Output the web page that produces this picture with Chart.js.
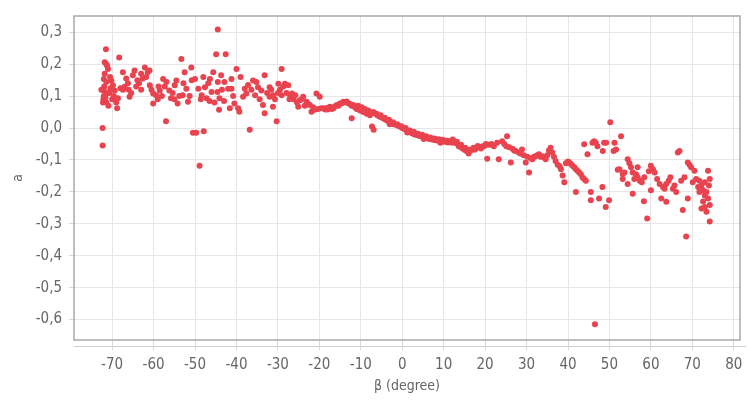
<!DOCTYPE html>
<html>
<head>
<meta charset="utf-8">
<script src="https://cdn.jsdelivr.net/npm/chart.js@4/dist/chart.umd.min.js"></script>
<style>
  html, body { margin: 0; padding: 0; background: #fff; }
  canvas { display: block; }
</style>
</head>
<body>
<canvas id="scatter" width="751" height="401"></canvas>
<script>
// beta (degree) / a pairs, split by region of the sweep
const ptsFarLeft = [
  [-72.3,-0.055],[-72.3,0.0],[-72.2,0.08],[-72.1,0.09],[-72.0,0.1],[-72.0,0.118],[-71.9,0.13],[-72.0,0.154],
  [-71.8,0.17],[-71.8,0.206],[-71.5,0.247],[-71.4,0.2],[-71.4,0.144],[-71.4,0.08],[-71.2,0.195],[-71.2,0.11],
  [-71.0,0.185],[-70.9,0.07],[-70.7,0.11],[-70.5,0.16],[-70.2,0.149],[-70.0,0.09],[-69.8,0.134],[-69.6,0.1],
  [-69.4,0.118],[-69.0,0.08],[-68.8,0.062],[-68.6,0.093],[-68.3,0.221],[-68.0,0.125],[-67.4,0.175],[-67.4,0.12],
  [-67.0,0.129],[-66.6,0.155],[-66.2,0.14],[-65.8,0.098],[-65.4,0.11],[-65.0,0.165],[-64.6,0.18],[-64.2,0.13],
  [-63.9,0.15],[-63.5,0.14],[-63.0,0.17],[-62.6,0.155],[-62.1,0.19],[-61.8,0.16],[-61.4,0.175],[-61.0,0.18],
  [-60.9,0.134],[-60.5,0.12],[-72.6,0.12],[-71.6,0.095],[-70.4,0.125],[-66.0,0.12],[-63.0,0.12]
];
const ptsLeft = [
  [-60.1,0.108],[-60.1,0.077],[-59.4,0.103],[-59.0,0.09],[-58.5,0.118],[-58.0,0.1],[-57.7,0.154],[-57.3,0.13],
  [-57.0,0.021],[-56.9,0.144],[-56.2,0.118],[-55.8,0.093],[-55.4,0.11],[-54.9,0.134],[-54.5,0.149],[-54.2,0.077],
  [-53.8,0.1],[-53.3,0.216],[-53.0,0.103],[-52.5,0.175],[-52.1,0.123],[-51.7,0.082],[-51.3,0.1],[-50.9,0.19],
  [-50.8,0.15],[-50.5,-0.015],[-50.0,0.154],[-49.7,-0.015],[-49.2,0.123],[-48.9,-0.118],[-48.6,0.09],[-48.4,0.103],
  [-47.9,-0.01],[-47.6,0.128],[-47.2,0.093],[-46.8,0.14],[-46.4,0.154],[-46.0,0.113],[-45.6,0.175],[-45.3,0.08],
  [-44.9,0.231],[-44.5,0.309],[-44.5,0.144],[-44.6,0.113],[-44.1,0.093],[-44.2,0.057],
  [-58.8,0.13],[-55.0,0.09],[-52.8,0.14],[-48.0,0.16],[-46.5,0.085]
];
const ptsMidLeft = [
  [-43.7,0.165],[-43.0,0.085],[-42.9,0.144],[-42.6,0.231],[-42.0,0.123],[-41.6,0.062],[-41.2,0.154],[-41.2,0.123],
  [-40.5,0.077],[-40.0,0.185],[-39.6,0.062],[-39.3,0.051],[-39.0,0.16],[-38.4,0.098],[-38.0,0.123],[-37.6,0.108],
  [-36.8,-0.005],[-36.4,0.12],[-36.0,0.149],[-35.5,0.103],[-35.2,0.144],[-34.8,0.128],[-34.4,0.09],[-34.0,0.118],
  [-33.6,0.072],[-33.2,0.165],[-33.2,0.046],[-32.6,0.11],[-32.0,0.098],[-32.0,0.128],[-31.6,0.12],[-31.2,0.103],
  [-31.2,0.067],[-30.7,0.09],[-30.3,0.021],[-29.9,0.139],[-29.5,0.12],[-29.1,0.185],[-29.1,0.103],[-28.7,0.13],
  [-28.3,0.139],[-27.9,0.11],[-27.5,0.134],[-27.0,0.1],[-26.6,0.108],[-26.2,0.09],[-25.8,0.103],[-25.4,0.08],
  [-25.1,0.067],[-24.7,0.087],[-24.3,0.09],[-23.9,0.098],[-23.5,0.07],[-23.1,0.082],[-22.7,0.075],[-22.3,0.072],
  [-21.9,0.051],[-21.5,0.065],[-21.1,0.057],[-20.7,0.108],[-20.3,0.06],[-19.9,0.098],[-19.5,0.062],
  [-43.5,0.12],[-40.8,0.1],[-37.2,0.135],[-30.0,0.11],[-27.2,0.09]
];
const ptsCentre = [
  [-19.0,0.062],[-18.6,0.058],[-18.3,0.062],[-18.0,0.058],[-17.7,0.064],[-17.4,0.067],[-17.0,0.06],[-16.6,0.062],
  [-16.2,0.068],[-15.8,0.072],[-15.4,0.07],[-15.0,0.077],[-14.6,0.078],[-14.2,0.082],[-13.8,0.08],[-13.4,0.083],
  [-13.0,0.078],[-12.6,0.075],[-12.2,0.031],[-12.2,0.07],[-11.8,0.072],[-11.4,0.065],[-11.0,0.06],[-10.6,0.07],
  [-10.2,0.055],[-9.8,0.065],[-9.4,0.05],[-9.0,0.06],[-8.6,0.045],[-8.2,0.055],[-7.8,0.04],[-7.3,0.005],
  [-7.0,0.05],[-6.9,-0.005],[-6.5,0.045],[-6.0,0.04],[-5.5,0.036],[-5.0,0.033],[-4.5,0.03],[-4.0,0.026],
  [-3.5,0.022],[-3.0,0.019],[-2.5,0.015],[-2.0,0.012],[-1.5,0.01],[-1.0,0.007],[-0.5,0.004],[0.0,0.0],
  [0.5,-0.003],[1.0,-0.006],[1.5,-0.01],[2.0,-0.014],[2.5,-0.017],[3.0,-0.02],[3.5,-0.022],[4.0,-0.024],
  [4.5,-0.026],[5.0,-0.028],[5.5,-0.03],[6.0,-0.032],[6.5,-0.034],[7.0,-0.035],[7.5,-0.037],[8.0,-0.038],
  [8.5,-0.039],[9.0,-0.04],[9.5,-0.041],[10.0,-0.042],[10.5,-0.043],[11.0,-0.045],[11.5,-0.044],[12.0,-0.046],
  [12.5,-0.042],[13.0,-0.048],[13.5,-0.052],[14.0,-0.058],[14.5,-0.063],[15.0,-0.068],[15.5,-0.072],[16.0,-0.075],
  [16.5,-0.07],[17.0,-0.066],[17.5,-0.068],[18.0,-0.062],[18.5,-0.06],[19.0,-0.064],[19.5,-0.058],[20.0,-0.055],
  [21.0,-0.052],[21.5,-0.05],
  [-9.6,0.058],[-8.8,0.052],[-8.0,0.047],[-6.2,0.045],[-5.2,0.04],[-4.2,0.032],[-3.2,0.026],[-2.2,0.018],
  [-1.2,0.012],[-0.2,0.006],[0.8,0.0],[1.8,-0.008],[2.8,-0.012],[3.8,-0.018],[4.8,-0.021],[5.8,-0.026],
  [6.8,-0.03],[7.8,-0.033],[8.8,-0.035],[9.8,-0.037],[10.8,-0.04],[11.8,-0.04],[12.2,-0.036],[13.2,-0.043],
  [14.2,-0.052],[15.2,-0.062],[16.2,-0.068],[17.2,-0.062],[18.2,-0.056],[19.2,-0.058],[20.2,-0.05],
  [-3.0,0.012],[1.2,-0.014],[5.2,-0.034],[9.2,-0.046],[13.7,-0.058],[16.0,-0.08]
];
const ptsMidRight = [
  [20.5,-0.096],[22.1,-0.057],[22.9,-0.046],[23.3,-0.098],[24.1,-0.041],[24.6,-0.05],[25.1,-0.057],[25.3,-0.026],
  [25.8,-0.06],[26.2,-0.108],[26.6,-0.065],[27.0,-0.07],[27.4,-0.072],[28.1,-0.077],[28.5,-0.08],[28.9,-0.067],
  [29.3,-0.085],[29.8,-0.108],[30.2,-0.09],[30.6,-0.139],[31.0,-0.095],[31.4,-0.098],[31.8,-0.09],[32.2,-0.088],
  [32.6,-0.085],[33.0,-0.082],[33.4,-0.09],[33.8,-0.088],[34.2,-0.092],[34.6,-0.098],[35.0,-0.085],[35.4,-0.07],
  [35.8,-0.062],[36.2,-0.077],[36.6,-0.09],[37.0,-0.103],[37.5,-0.115],[38.0,-0.12],[38.3,-0.129],[38.7,-0.149],
  [39.1,-0.170],[39.5,-0.11],[40.0,-0.105],[40.3,-0.108],[40.7,-0.113],[41.1,-0.118],[41.5,-0.123],[41.9,-0.129],
  [41.9,-0.2],[42.3,-0.134],[42.7,-0.139],[43.1,-0.145],[43.5,-0.155],[43.9,-0.051],[43.9,-0.16],[44.3,-0.165],
  [44.7,-0.082]
];
const ptsRight = [
  [45.5,-0.2],[45.5,-0.226],[45.9,-0.046],[46.3,-0.041],[46.5,-0.615],[46.7,-0.046],[47.1,-0.057],[47.5,-0.221],
  [48.3,-0.185],[48.4,-0.072],[48.7,-0.046],[49.1,-0.247],[49.2,-0.046],[49.9,-0.226],[50.2,0.018],[51.0,-0.072],
  [51.2,-0.046],[51.6,-0.067],[52.0,-0.131],[52.4,-0.129],[52.8,-0.026],[53.2,-0.144],[53.2,-0.160],[53.6,-0.139],
  [54.4,-0.175],[54.4,-0.098],[54.8,-0.11],[55.2,-0.123],[55.6,-0.139],[55.6,-0.206],[56.0,-0.160],[56.4,-0.145],
  [56.8,-0.123],[56.8,-0.154],[57.3,-0.165],[57.8,-0.17],[58.3,-0.229],[58.4,-0.154],[59.1,-0.283],[59.5,-0.135],
  [60.0,-0.118],[60.0,-0.195],[60.5,-0.129],[60.9,-0.139],[61.5,-0.16],[62.1,-0.175],[62.5,-0.221],[62.9,-0.185],
  [63.3,-0.19],[63.7,-0.175],[63.7,-0.231],[64.3,-0.165],[64.7,-0.154],[65.3,-0.190],[65.7,-0.18],[66.1,-0.2],
  [66.5,-0.077],[66.9,-0.072],[67.3,-0.165],[67.7,-0.257],[68.1,-0.154],[68.5,-0.340],[68.9,-0.221],[68.9,-0.108],
  [69.3,-0.115],[69.7,-0.123],[70.1,-0.17],[70.5,-0.134],[70.9,-0.160],[71.4,-0.185],[71.7,-0.165],[71.7,-0.2],
  [72.2,-0.252],[72.2,-0.18],[72.6,-0.195],[72.6,-0.23],[73.0,-0.170],[73.0,-0.211],[73.0,-0.247],[73.4,-0.2],
  [73.4,-0.262],[73.8,-0.134],[73.8,-0.221],[74.2,-0.241],[74.2,-0.293],[74.0,-0.18],[74.2,-0.16]
];

const xTicks = [-70,-60,-50,-40,-30,-20,-10,0,10,20,30,40,50,60,70,80];
const yTicks = [-0.6,-0.5,-0.4,-0.3,-0.2,-0.1,0.0,0.1,0.2,0.3];

const allPts = [].concat(ptsFarLeft, ptsLeft, ptsMidLeft, ptsCentre, ptsMidRight, ptsRight)
  .map(p => ({x: p[0], y: p[1]}));

const FONT = "'Liberation Sans Narrow', 'DejaVu Sans Condensed', sans-serif";
const TXT = '#666666';
const GRID = '#e6e6e6';

// plot frame plus the detached x axis line underneath
const frame = {
  id: 'frame',
  afterDraw(chart) {
    const {ctx, chartArea: a} = chart;
    ctx.save();
    ctx.strokeStyle = '#a9a9a9';
    ctx.lineWidth = 1.5;
    ctx.strokeRect(a.left, a.top, a.right - a.left, a.bottom - a.top);
    ctx.strokeStyle = '#cfcfcf';
    ctx.lineWidth = 1;
    ctx.beginPath();
    ctx.moveTo(a.left, a.bottom + 6.5);
    ctx.lineTo(a.right + 6, a.bottom + 6.5);
    ctx.stroke();
    ctx.restore();
  }
};

new Chart(document.getElementById('scatter'), {
  type: 'scatter',
  data: {
    datasets: [{
      data: allPts,
      backgroundColor: '#e8434e',
      borderColor: '#e8434e',
      borderWidth: 0,
      pointRadius: 3,
      pointHoverRadius: 3
    }]
  },
  options: {
    responsive: false,
    animation: false,
    devicePixelRatio: 1,
    layout: {padding: {left: 0, top: 11, right: 11, bottom: 0}},
    plugins: {legend: {display: false}, tooltip: {enabled: false}},
    scales: {
      x: {
        type: 'linear',
        min: -79.2,
        max: 81.5,
        afterBuildTicks: s => { s.ticks = xTicks.map(v => ({value: v})); },
        afterFit: s => { s.height = 61; },
        grid: {color: GRID, tickColor: '#d8d8d8', tickLength: 10},
        border: {display: false},
        ticks: {color: TXT, padding: 6, font: {family: FONT, size: 15}, maxRotation: 0},
        title: {display: true, text: 'β (degree)', color: TXT, font: {family: FONT, size: 14}, padding: {top: 0, bottom: 6}}
      },
      y: {
        type: 'linear',
        min: -0.664,
        max: 0.351,
        afterBuildTicks: s => { s.ticks = yTicks.map(v => ({value: v})); },
        afterFit: s => { s.width = 74; },
        grid: {color: GRID, tickColor: '#d8d8d8', tickLength: 5},
        border: {display: false},
        ticks: {
          color: TXT, padding: 7, font: {family: FONT, size: 15},
          callback: v => v.toFixed(1).replace('.', ',')
        },
        title: {display: true, text: 'a', color: TXT, font: {family: FONT, size: 14}, padding: {top: 10, bottom: 0}}
      }
    }
  },
  plugins: [frame]
});
</script>
</body>
</html>
